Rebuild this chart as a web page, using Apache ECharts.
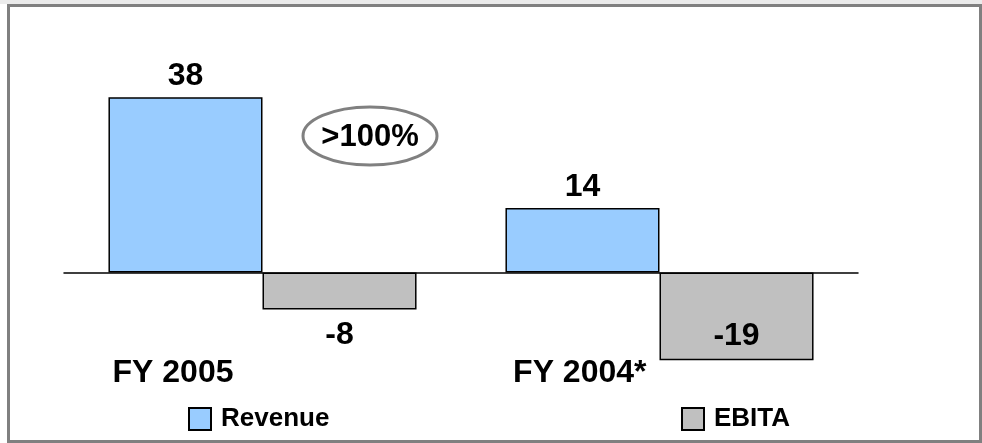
<!DOCTYPE html>
<html>
<head>
<meta charset="utf-8">
<script src="https://cdn.jsdelivr.net/npm/echarts@6/dist/echarts.min.js"></script>
<style>
html, body { margin: 0; padding: 0; background: #fff; }
#bar-pic { width: 982px; height: 443px; }
</style>
</head>
<body>
<div id="bar-pic"></div>
<script>
// data
const categories = ['FY 2005', 'FY 2004*']
const revenue = [38, 14]
const ebita = [-8, -19]
const seriesNames = ['Revenue', 'EBITA']
const growthNote = '>100%'

const FONT = '"Liberation Sans", Arial, sans-serif'

const myChart = echarts.init(document.getElementById('bar-pic'))

// right padding of each FY label (they sit left of the group centre)
const labelPad = [29, 13]

const legendText = { fontFamily: FONT, fontSize: 26, fontWeight: 'bold', color: '#000', padding: [0, 0, 0, 5] }

const option = {
  animation: false,
  backgroundColor: '#ffffff',
  grid: {
    left: 64,
    width: 794,
    top: 88,
    height: 323,
    containLabel: false,
    outerBoundsMode: 'none'
  },
  legend: [
    {
      left: 183,
      top: 401,
      icon: 'rect',
      itemWidth: 22,
      itemHeight: 22,
      data: [seriesNames[0]],
      textStyle: legendText
    },
    {
      left: 676,
      top: 401,
      icon: 'rect',
      itemWidth: 22,
      itemHeight: 22,
      data: [seriesNames[1]],
      textStyle: legendText
    }
  ],
  xAxis: [
    {
      // zero line
      type: 'category',
      data: categories,
      axisLine: { onZero: true, lineStyle: { color: '#000', width: 1.5 } },
      axisTick: { show: false },
      axisLabel: { show: false }
    },
    {
      // FY labels, lifted up from the grid bottom
      type: 'category',
      data: categories.map((c, i) => ({
        value: c,
        textStyle: { align: 'right', padding: [0, labelPad[i], 0, 0] }
      })),
      position: 'bottom',
      offset: -54,
      axisLine: { show: false, onZero: false },
      axisTick: { show: false },
      axisLabel: {
        interval: 0,
        align: 'right',
        margin: 0,
        fontFamily: FONT,
        fontSize: 32,
        fontWeight: 'bold',
        color: '#000'
      }
    }
  ],
  yAxis: {
    type: 'value',
    min: -30,
    max: 40,
    show: false,
    splitLine: { show: false }
  },
  series: [
    {
      name: seriesNames[0],
      type: 'bar',
      barGap: '0%',
      barCategoryGap: '22.4%',
      itemStyle: { color: '#99CCFF', borderColor: '#000', borderWidth: 1.5 },
      label: {
        show: true,
        position: 'top',
        distance: 5,
        fontFamily: FONT,
        fontSize: 32,
        fontWeight: 'bold',
        color: '#000'
      },
      data: revenue
    },
    {
      name: seriesNames[1],
      type: 'bar',
      barGap: '0%',
      barCategoryGap: '22.4%',
      itemStyle: { color: '#C0C0C0', borderColor: '#000', borderWidth: 1.5 },
      label: {
        show: true,
        fontFamily: FONT,
        fontSize: 32,
        fontWeight: 'bold',
        color: '#000'
      },
      data: ebita.map((v, i) => ({
        value: v,
        label: i === 0
          ? { position: 'bottom', distance: 10 }
          : { position: 'insideBottom', distance: 8 }
      }))
    }
  ],
  graphic: [
    // grey strip and frame of the slide
    {
      type: 'rect',
      shape: { x: 0, y: 0, width: 982, height: 4 },
      style: { fill: '#ebebeb' },
      silent: true
    },
    {
      type: 'rect',
      shape: { x: 8.5, y: 5.5, width: 972, height: 436 },
      style: { fill: null, stroke: '#808080', lineWidth: 3 },
      silent: true
    },
    {
      type: 'ellipse',
      shape: { cx: 370, cy: 136, rx: 67, ry: 29 },
      style: { fill: '#fff', stroke: '#808080', lineWidth: 3 }
    },
    {
      type: 'text',
      x: 370,
      y: 137,
      style: {
        text: growthNote,
        fontFamily: FONT,
        fontSize: 31,
        fontWeight: 'bold',
        fill: '#000',
        align: 'center',
        verticalAlign: 'middle'
      }
    }
  ]
}

myChart.setOption(option)
</script>
</body>
</html>
